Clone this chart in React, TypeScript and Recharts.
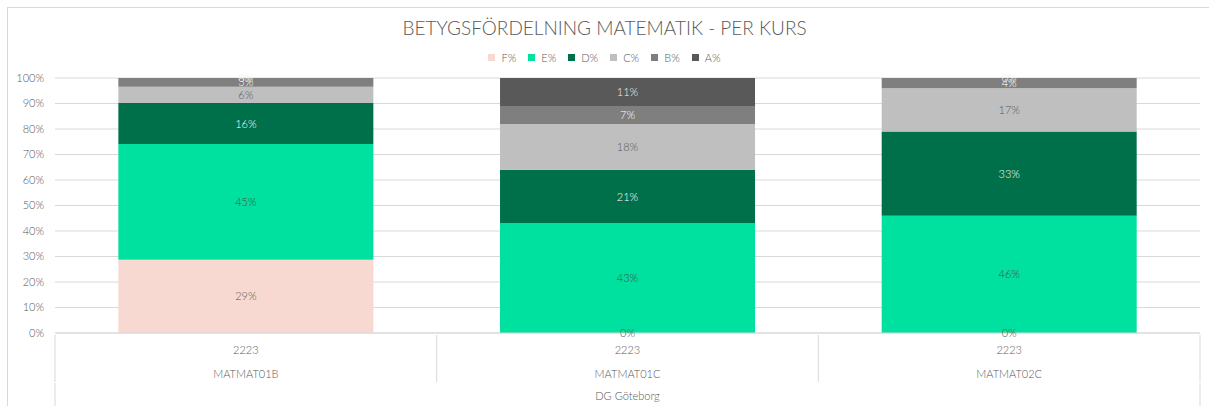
import React from 'react';
import { BarChart, Bar, XAxis, YAxis, CartesianGrid, Legend, LabelList } from 'recharts';

const courses = ['MATMAT01B', 'MATMAT01C', 'MATMAT02C'];
const terms = ['2223', '2223', '2223'];
const schools = ['DG Göteborg', 'DG Göteborg', 'DG Göteborg'];
const fPct = [28.7, 0, 0];
const ePct = [45.4, 43, 46];
const dPct = [16.1, 21, 33];
const cPct = [6.4, 18, 17];
const bPct = [3.4, 7, 4];
const aPct = [0, 11, 0];
const yTicks = [0, 10, 20, 30, 40, 50, 60, 70, 80, 90, 100];
const title = 'BETYGSFÖRDELNING MATEMATIK - PER KURS';

const FONT = 'Lato, "Noto Sans", sans-serif';
const TEXT = '#595959';
const LINE = '#D9D9D9';

const series = [
  { key: 'F%', values: fPct, color: '#F7D9D1', labelColor: '#595959' },
  { key: 'E%', values: ePct, color: '#00E09E', labelColor: '#4A4A4A' },
  { key: 'D%', values: dPct, color: '#00704A', labelColor: '#FFFFFF' },
  { key: 'C%', values: cPct, color: '#BFBFBF', labelColor: '#595959' },
  { key: 'B%', values: bPct, color: '#7F7F7F', labelColor: '#FFFFFF' },
  { key: 'A%', values: aPct, color: '#595959', labelColor: '#F2F2F2' },
];

const data = courses.map((course, i) => {
  const row: Record<string, string | number> = { course, term: terms[i], school: schools[i] };
  series.forEach((s) => {
    row[s.key] = s.values[i];
  });
  return row;
});

const TermTick = (props: any) => {
  const { x, y, payload } = props;
  const half = payload.offset ?? 0;
  const last = payload.index === courses.length - 1;
  return (
    <g>
      <line x1={x - half} x2={x - half} y1={y} y2={y + 47} stroke={LINE} />
      {last && <line x1={x + half} x2={x + half} y1={y} y2={y + 47} stroke={LINE} />}
      <text x={x} y={y} dy={19} textAnchor="middle" fill={TEXT} fontSize={11} fontFamily={FONT} fontWeight={300}>
        {payload.value}
      </text>
    </g>
  );
};

const CourseTick = (props: any) => {
  const { x, y, payload } = props;
  return (
    <text x={x} y={y} dy={19} textAnchor="middle" fill={TEXT} fontSize={11} fontFamily={FONT} fontWeight={300}>
      {payload.value}
    </text>
  );
};

const SchoolTick = (props: any) => {
  const { x, y, payload } = props;
  const half = payload.offset ?? 0;
  const idx = payload.index;
  return (
    <g>
      {idx === 0 && <line x1={x - half} x2={x - half} y1={y} y2={y + 30} stroke={LINE} />}
      {idx === courses.length - 1 && <line x1={x + half} x2={x + half} y1={y} y2={y + 30} stroke={LINE} />}
      {idx === Math.floor(courses.length / 2) && (
        <text x={x} y={y} dy={17} textAnchor="middle" fill={TEXT} fontSize={11} fontFamily={FONT} fontWeight={300}>
          {payload.value}
        </text>
      )}
    </g>
  );
};

const makeLabel = (color: string) => (props: any) => {
  const { x, y, width, height, value } = props;
  return (
    <text
      x={x + width / 2}
      y={y + height / 2}
      dy={4}
      textAnchor="middle"
      fill={color}
      fontSize={11}
      fontFamily={FONT}
      fontWeight={300}
    >
      {`${Math.round(Number(value))}%`}
    </text>
  );
};

const LegendContent = () => (
  <div
    style={{
      height: 20,
      display: 'flex',
      justifyContent: 'center',
      alignItems: 'center',
      fontFamily: FONT,
      fontWeight: 300,
      fontSize: 11,
      color: TEXT,
    }}
  >
    {series.map((s) => (
      <span key={s.key} style={{ display: 'inline-flex', alignItems: 'center', margin: '0 6px' }}>
        <span style={{ width: 7, height: 7, background: s.color, display: 'inline-block', marginRight: 6 }} />
        {s.key}
      </span>
    ))}
  </div>
);

export default function App() {
  return (
    <div style={{ position: 'absolute', left: 0, top: 0, width: 1209, height: 406, overflow: 'hidden', background: '#fff' }}>
      <div
        style={{
          position: 'absolute',
          left: 7,
          top: 7,
          width: 1400,
          height: 600,
          border: `1px solid ${LINE}`,
        }}
      />
      <div
        style={{
          position: 'absolute',
          left: 0,
          top: 16,
          width: 1209,
          textAlign: 'center',
          fontFamily: FONT,
          fontWeight: 300,
          fontSize: 19,
          color: TEXT,
        }}
      >
        {title}
      </div>
      <BarChart
        width={1209}
        height={406}
        data={data}
        margin={{ top: 58, right: 9, bottom: 0, left: 8 }}
        barCategoryGap="16.6%"
      >
        <CartesianGrid vertical={false} stroke={LINE} />
        <XAxis
          xAxisId="a_term"
          dataKey="term"
          height={24}
          interval={0}
          tickSize={0}
          axisLine={{ stroke: LINE }}
          tickLine={false}
          tick={<TermTick />}
        />
        <XAxis
          xAxisId="b_course"
          dataKey="course"
          height={24}
          interval={0}
          tickSize={0}
          axisLine={false}
          tickLine={false}
          tick={<CourseTick />}
        />
        <XAxis
          xAxisId="c_school"
          dataKey="school"
          height={25}
          interval={0}
          tickSize={0}
          axisLine={false}
          tickLine={false}
          tick={<SchoolTick />}
        />
        <YAxis
          domain={[0, 100]}
          ticks={yTicks}
          tickFormatter={(v: number) => `${v}%`}
          axisLine={false}
          tickLine={false}
          tickSize={0}
          tickMargin={11}
          width={47}
          tick={{ fill: TEXT, fontSize: 11, fontFamily: FONT, fontWeight: 300 }}
          interval={0}
        />
        <Legend verticalAlign="top" content={<LegendContent />} wrapperStyle={{ top: 47, left: 0, width: 1209 }} />
        {series.map((s) => (
          <Bar
            key={s.key}
            dataKey={s.key}
            stackId="g"
            xAxisId="a_term"
            fill={s.color}
            minPointSize={0.01}
            isAnimationActive={false}
          >
            <LabelList dataKey={s.key} content={makeLabel(s.labelColor)} />
          </Bar>
        ))}
      </BarChart>
    </div>
  );
}
